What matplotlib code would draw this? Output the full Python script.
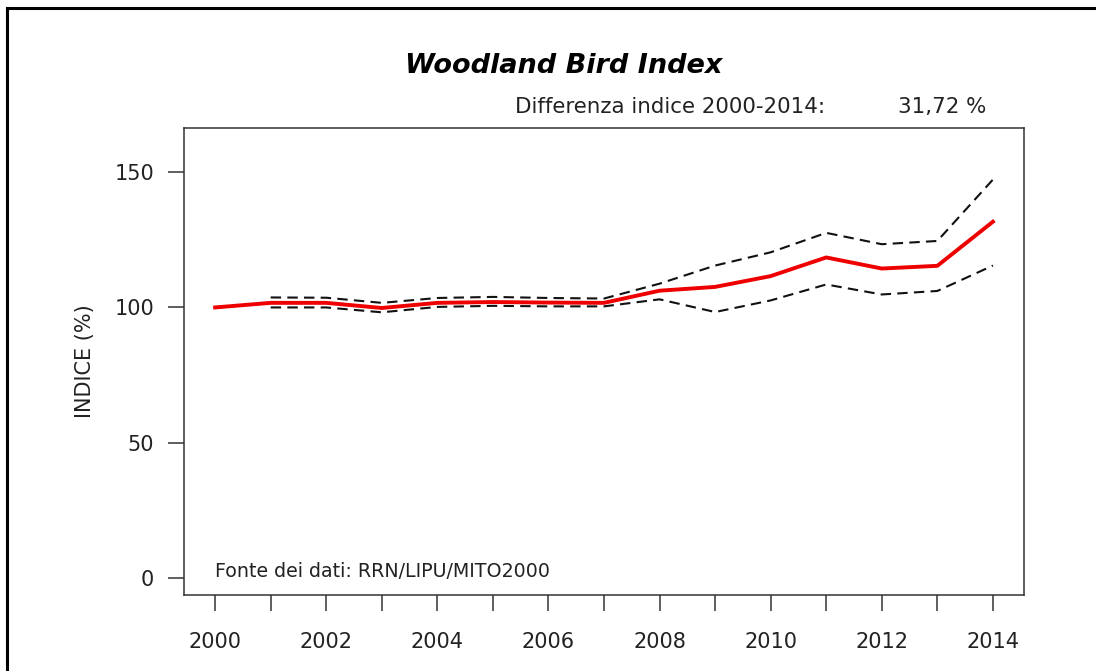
import numpy as np
import matplotlib.pyplot as plt
from matplotlib.lines import Line2D

years = list(range(2000, 2015))
indice = [100, 101.7, 101.7, 99.8, 101.7, 102.0, 101.8, 101.7,
          106.2, 107.6, 111.6, 118.5, 114.4, 115.4, 131.72]
# confidence limits (no value for the base year)
ci_years = list(range(2001, 2015))
upper = [103.7, 103.6, 101.7, 103.5, 103.9, 103.5, 103.3,
         108.8, 115.5, 120.4, 127.6, 123.4, 124.6, 147.3]
lower = [100.0, 100.0, 98.2, 100.2, 100.6, 100.4, 100.4,
         103.0, 98.3, 102.6, 108.5, 104.8, 106.1, 115.5]
y_ticks = [0, 50, 100, 150]
x_labels = list(range(2000, 2015, 2))

W, H = 1096, 671
fig = plt.figure(figsize=(W / 100, H / 100), dpi=100)
ax = fig.add_axes([184 / W, 1 - 595 / H, (1024 - 184) / W, (595 - 128) / H])

ax.plot(ci_years, upper, color='#111111', lw=1.5, dashes=(5, 3))
ax.plot(ci_years, lower, color='#111111', lw=1.5, dashes=(5, 3))
ax.plot(years, indice, color='#ee0000', lw=2.8, solid_joinstyle='round')

ax.set_xlim(2000 - 0.56, 2014 + 0.56)
ax.set_ylim(-6.4, 166.4)
ax.set_yticks(y_ticks)
ax.set_xticks(years)
ax.set_xticklabels([str(y) if y in x_labels else '' for y in years])

for s in ax.spines.values():
    s.set_color('#333333')
    s.set_linewidth(1.1)
ax.tick_params(axis='both', direction='out', length=11.5, width=1.1,
               color='#333333', labelsize=15, labelcolor='#222222')
ax.tick_params(axis='x', pad=15)
ax.tick_params(axis='y', pad=10)
ax.set_ylabel('INDICE (%)', fontsize=15, color='#222222', labelpad=14)

ax.text(2000, 2.2, 'Fonte dei dati: RRN/LIPU/MITO2000', fontsize=13.7,
        color='#222222', ha='left', va='center')

fig.text(564 / W, 1 - 66 / H, 'Woodland Bird Index', fontsize=19.5,
         fontweight='bold', fontstyle='italic', ha='center', va='center')
fig.text(825 / W, 1 - 107 / H, 'Differenza indice 2000-2014:', fontsize=15.4,
         color='#222222', ha='right', va='center')
fig.text(986 / W, 1 - 107 / H, '31,72 %', fontsize=15.4,
         color='#222222', ha='right', va='center')

# outer frame (top and left edges)
fig.add_artist(Line2D([7 / W, 7 / W], [0, 1 - 8 / H], color='black', lw=2.2))
fig.add_artist(Line2D([7 / W, 1], [1 - 8 / H, 1 - 8 / H], color='black', lw=2.2))

fig.savefig('out.png', dpi=100)
